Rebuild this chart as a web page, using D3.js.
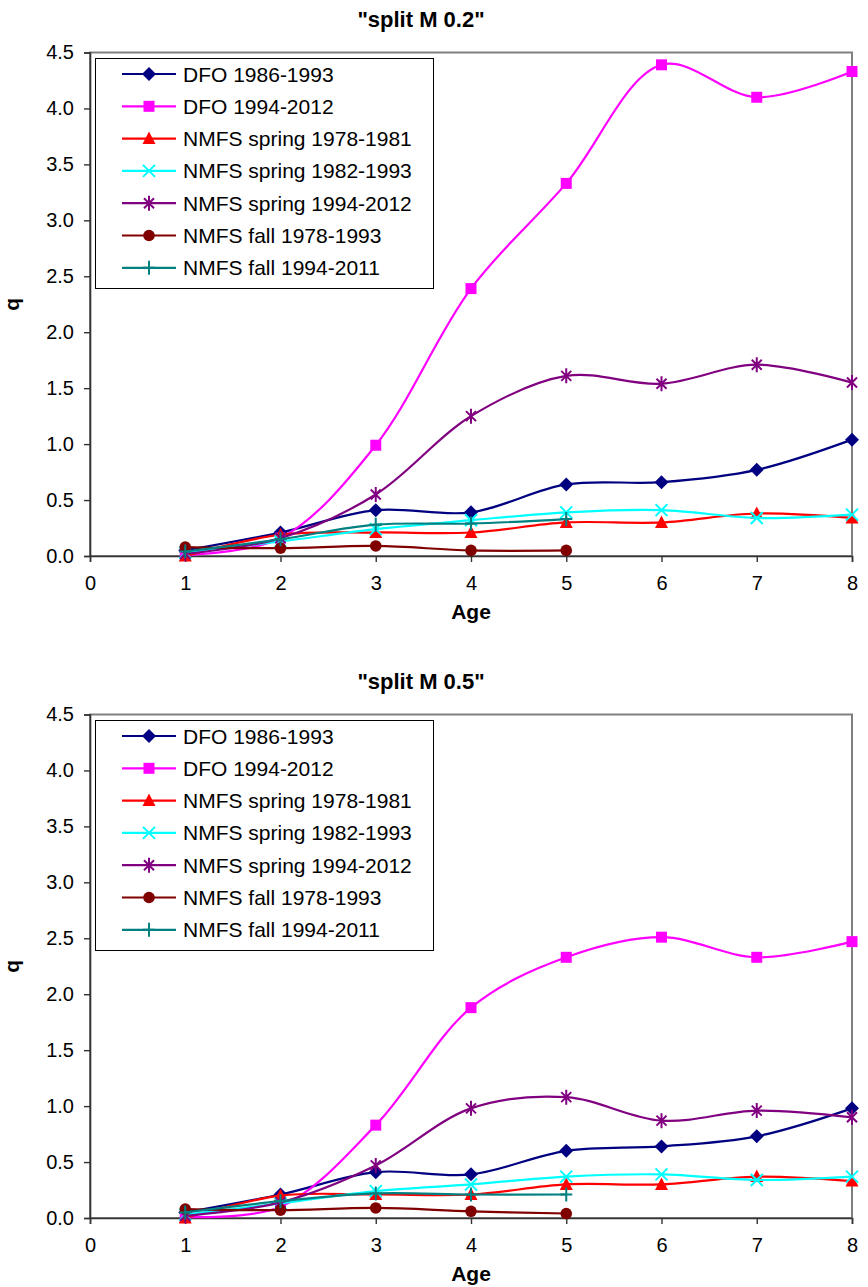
<!DOCTYPE html>
<html>
<head>
<meta charset="utf-8">
<script src="https://cdn.jsdelivr.net/npm/d3@7"></script>
<style>
  body { margin: 0; background: #fff; }
  text { font-family: "Liberation Sans", Arial, sans-serif; fill: #000; }
</style>
</head>
<body>
<svg id="chart" width="868" height="1287"></svg>
<script>
// ---- data ----
const ages = [1, 2, 3, 4, 5, 6, 7, 8];
const ageTicks = [0, 1, 2, 3, 4, 5, 6, 7, 8];
const qTicks = [0, 0.5, 1, 1.5, 2, 2.5, 3, 3.5, 4, 4.5];

const seriesNames = [
  "DFO 1986-1993",
  "DFO 1994-2012",
  "NMFS spring 1978-1981",
  "NMFS spring 1982-1993",
  "NMFS spring 1994-2012",
  "NMFS fall 1978-1993",
  "NMFS fall 1994-2011"
];
const seriesColors = ["#000080", "#FF00FF", "#FF0000", "#00FFFF", "#800080", "#800000", "#008080"];
const seriesMarkers = ["diamond", "square", "triangle", "x", "star", "circle", "plus"];

// catchability q by age, split M 0.2
const dfo8693_M02      = [0.05, 0.21, 0.41, 0.39, 0.64, 0.66, 0.77, 1.04];
const dfo9412_M02      = [0.01, 0.16, 0.99, 2.39, 3.33, 4.39, 4.10, 4.33];
const spring7881_M02   = [0.00, 0.19, 0.21, 0.21, 0.30, 0.30, 0.38, 0.34];
const spring8293_M02   = [0.03, 0.13, 0.24, 0.32, 0.39, 0.41, 0.34, 0.37];
const spring9412_M02   = [0.02, 0.16, 0.55, 1.25, 1.61, 1.54, 1.71, 1.55];
const fall7893_M02     = [0.08, 0.07, 0.09, 0.05, 0.05];
const fall9411_M02     = [0.04, 0.15, 0.28, 0.29, 0.33];

// catchability q by age, split M 0.5
const dfo8693_M05      = [0.05, 0.21, 0.41, 0.39, 0.60, 0.64, 0.73, 0.98];
const dfo9412_M05      = [0.01, 0.10, 0.83, 1.88, 2.33, 2.51, 2.33, 2.47];
const spring7881_M05   = [0.00, 0.20, 0.21, 0.21, 0.30, 0.30, 0.37, 0.33];
const spring8293_M05   = [0.03, 0.13, 0.24, 0.30, 0.37, 0.39, 0.34, 0.37];
const spring9412_M05   = [0.02, 0.14, 0.47, 0.98, 1.08, 0.87, 0.96, 0.90];
const fall7893_M05     = [0.08, 0.07, 0.09, 0.06, 0.04];
const fall9411_M05     = [0.05, 0.15, 0.22, 0.21, 0.21];

const panels = [
  { title: '"split M 0.2"', offset: 0,
    values: [dfo8693_M02, dfo9412_M02, spring7881_M02, spring8293_M02, spring9412_M02, fall7893_M02, fall9411_M02] },
  { title: '"split M 0.5"', offset: 662,
    values: [dfo8693_M05, dfo9412_M05, spring7881_M05, spring8293_M05, spring9412_M05, fall7893_M05, fall9411_M05] }
];

// ---- marker shapes ----
function markerPath(kind) {
  switch (kind) {
    case "diamond":  return "M0,-7L7,0L0,7L-7,0Z";
    case "square":   return "M-5.5,-5.5H5.5V5.5H-5.5Z";
    case "triangle": return "M0,-7L6.5,5.5L-6.5,5.5Z";
    case "x":        return "M-6,-6L6,6M-6,6L6,-6";
    case "star":     return "M-5,-5L5,5M-5,5L5,-5M0,-7.5L0,7.5";
    case "plus":     return "M-6,0L6,0M0,-7L0,7";
    default:         return null;
  }
}
function drawMarker(sel, kind, color) {
  if (kind === "circle") {
    sel.append("circle").attr("r", 5.8).attr("fill", color);
  } else if (kind === "x" || kind === "star" || kind === "plus") {
    sel.append("path").attr("d", markerPath(kind))
      .attr("fill", "none").attr("stroke", color).attr("stroke-width", 2);
  } else {
    sel.append("path").attr("d", markerPath(kind)).attr("fill", color);
  }
}

// ---- drawing ----
const svg = d3.select("#chart");
const plotLeft = 90, plotRight = 852;

panels.forEach(panel => {
  const oy = panel.offset;
  const plotTop = oy + 52.5, plotBottom = oy + 556;

  const x = d3.scaleLinear().domain([0, 8]).range([plotLeft, plotRight]);
  const y = d3.scaleLinear().domain([0, 4.5]).range([plotBottom, plotTop]);

  const g = svg.append("g");

  // title
  g.append("text")
    .attr("x", 421).attr("y", oy + 27)
    .attr("text-anchor", "middle")
    .attr("font-size", 22).attr("font-weight", "bold")
    .text(panel.title);

  // plot-area frame
  g.append("rect")
    .attr("x", plotLeft).attr("y", plotTop)
    .attr("width", plotRight - plotLeft).attr("height", plotBottom - plotTop)
    .attr("fill", "none").attr("stroke", "#808080").attr("stroke-width", 2);

  // y axis
  const yAxis = d3.axisLeft(y).tickValues(qTicks).tickFormat(d3.format(".1f"))
    .tickSize(6).tickPadding(10);
  const yg = g.append("g").attr("transform", `translate(${plotLeft},0)`).call(yAxis);
  yg.select(".domain").attr("stroke", "#333").attr("stroke-width", 1.6);
  yg.selectAll(".tick line").attr("stroke", "#333").attr("stroke-width", 1.4);
  yg.selectAll(".tick text").attr("font-size", 20).attr("font-family", null).attr("fill", "#000");

  // x axis at q = 0
  const xAxis = d3.axisBottom(x).tickValues(ageTicks).tickFormat(d3.format("d"))
    .tickSize(6).tickPadding(14);
  const xg = g.append("g").attr("transform", `translate(0,${plotBottom})`).call(xAxis);
  xg.select(".domain").attr("stroke", "#333").attr("stroke-width", 1.6);
  xg.selectAll(".tick line").attr("stroke", "#333").attr("stroke-width", 1.4);
  xg.selectAll(".tick text").attr("font-size", 20).attr("font-family", null).attr("fill", "#000");

  // axis titles
  g.append("text")
    .attr("x", (plotLeft + plotRight) / 2).attr("y", oy + 619)
    .attr("text-anchor", "middle")
    .attr("font-size", 21).attr("font-weight", "bold")
    .text("Age");
  g.append("text")
    .attr("transform", `translate(19,${(plotTop + plotBottom) / 2}) rotate(-90)`)
    .attr("text-anchor", "middle")
    .attr("font-size", 21).attr("font-weight", "bold")
    .text("q");

  // series
  const line = d3.line()
    .x((d, i) => x(ages[i]))
    .y(d => y(d))
    .curve(d3.curveCatmullRom.alpha(0.5));

  panel.values.forEach((vals, si) => {
    const color = seriesColors[si];
    const sg = g.append("g");
    sg.append("path")
      .attr("d", line(vals))
      .attr("fill", "none")
      .attr("stroke", color)
      .attr("stroke-width", 2.2);
    vals.forEach((v, i) => {
      const m = sg.append("g").attr("transform", `translate(${x(ages[i])},${y(v)})`);
      drawMarker(m, seriesMarkers[si], color);
    });
  });

  // legend
  const lg = g.append("g");
  lg.append("rect")
    .attr("x", 95.5).attr("y", oy + 58.5)
    .attr("width", 338).attr("height", 230)
    .attr("fill", "#fff").attr("stroke", "#000").attr("stroke-width", 1);
  seriesNames.forEach((name, si) => {
    const ry = oy + 74 + si * 32.3;
    const row = lg.append("g");
    row.append("line")
      .attr("x1", 122).attr("x2", 176).attr("y1", ry).attr("y2", ry)
      .attr("stroke", seriesColors[si]).attr("stroke-width", 2.2);
    const m = row.append("g").attr("transform", `translate(149,${ry})`);
    drawMarker(m, seriesMarkers[si], seriesColors[si]);
    row.append("text")
      .attr("x", 183).attr("y", ry + 7.5)
      .attr("font-size", 21)
      .text(name);
  });
});
</script>
</body>
</html>
